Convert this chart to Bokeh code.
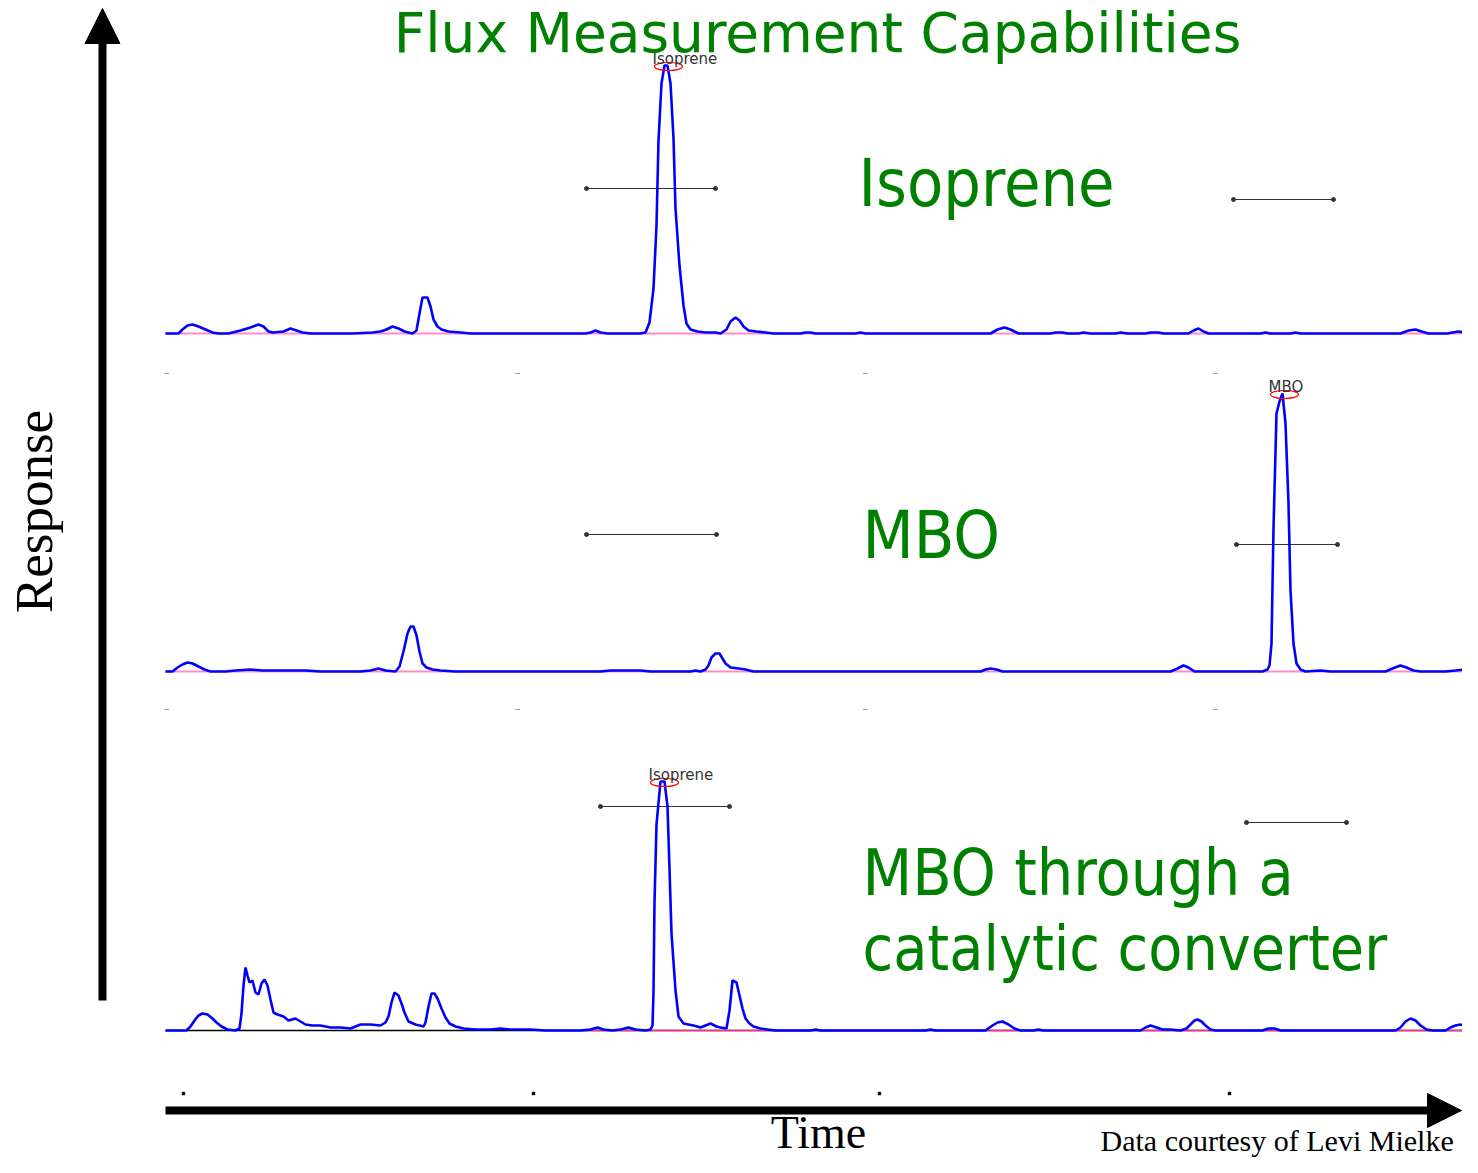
import math
from bokeh.plotting import figure
from bokeh.models import Range1d, Arrow, NormalHead, Label
from bokeh.embed import file_html
from bokeh.resources import INLINE

# ---------------- data (time in scan units, response in detector units) ----------------
# Panel 1: Isoprene standard
iso_time = [165, 178, 182, 187, 192, 198, 205, 212, 218, 228, 240, 250, 258, 263, 268, 272,
            283, 290, 296, 302, 310, 352, 372, 380, 386, 392, 398, 404, 412, 416, 419, 422,
            427, 430, 433, 437, 441, 448, 460, 470, 585, 590, 595, 600, 607, 640, 645, 649,
            653, 656, 658, 661, 664, 667, 670, 673, 675, 679, 683, 686, 690, 697, 705, 715,
            720, 726, 730, 735, 739, 743, 748, 756, 765, 773, 800, 805, 810, 815, 855, 860,
            865, 990, 997, 1004, 1010, 1018, 1050, 1055, 1062, 1067, 1078, 1083, 1090, 1115,
            1120, 1127, 1145, 1150, 1158, 1163, 1188, 1193, 1198, 1203, 1208, 1260, 1265,
            1270, 1290, 1295, 1300, 1400, 1408, 1415, 1421, 1428, 1447, 1452, 1458, 1464, 1478]
iso_resp = [0, 0, 4, 8, 9, 7, 4, 1, 0, 0, 3, 6, 9, 7, 2, 1,
            2, 5, 3, 1, 0, 0, 1, 2, 4, 7, 5, 2, 0, 3, 20, 36,
            36, 27, 14, 7, 4, 2, 1, 0, 0, 1, 3, 1, 0, 0, 1, 11,
            45, 108, 193, 250, 268, 268, 250, 195, 125, 68, 28, 10, 4, 2, 1, 1,
            0, 4, 12, 16, 13, 7, 3, 2, 1, 0, 0, 1, 1, 0, 0, 1,
            0, 0, 4, 6, 4, 0, 0, 1, 1, 0, 0, 1, 0, 0,
            1, 0, 0, 1, 1, 0, 0, 3, 5, 2, 0, 0, 1,
            0, 0, 1, 0, 0, 3, 4, 2, 0, 0, 1, 2, 1, 1]

# Panel 2: MBO standard
mbo_time = [165, 172, 177, 182, 187, 192, 198, 204, 210, 225, 235, 250, 262, 275, 290, 305,
            320, 360, 370, 378, 385, 395, 399, 403, 407, 410, 413, 416, 419, 422, 426, 432,
            440, 455, 575, 600, 610, 625, 640, 650, 690, 695, 700, 705, 708, 711, 715, 719,
            722, 725, 730, 738, 745, 753, 980, 985, 990, 996, 1002, 1140, 1160, 1170, 1177,
            1183, 1188, 1194, 1262, 1267, 1269, 1271, 1273, 1276, 1279, 1282, 1285, 1288,
            1290, 1293, 1296, 1300, 1305, 1320, 1330, 1385, 1392, 1400, 1406, 1413, 1420,
            1445, 1455, 1463, 1470, 1478]
mbo_resp = [0, 0, 4, 7, 9, 8, 5, 2, 0, 0, 1, 2, 1, 1, 1, 1,
            0, 0, 1, 3, 1, 0, 5, 20, 38, 45, 45, 36, 20, 8, 4, 2,
            1, 0, 0, 0, 1, 1, 1, 0, 0, 1, 0, 2, 6, 14, 18, 18,
            13, 8, 4, 3, 2, 0, 0, 2, 3, 2, 0, 0, 0, 0, 3,
            6, 4, 0, 0, 2, 6, 28, 143, 258, 270, 278, 248, 168,
            81, 28, 8, 2, 0, 1, 0, 0, 3, 6, 4, 1, 0,
            0, 1, 2, 1, 1]

# Panel 3: MBO through a catalytic converter
cat_time = [165, 186, 190, 194, 198, 202, 207, 212, 216, 221, 227, 235, 239, 241, 243, 245,
            247, 249, 252, 255, 258, 261, 264, 267, 270, 273, 277, 283, 288, 295, 300, 305,
            312, 320, 330, 340, 350, 360, 370, 380, 385, 388, 391, 394, 398, 401, 404, 408,
            415, 423, 425, 428, 431, 434, 437, 441, 445, 449, 455, 463, 475, 490, 500, 510,
            530, 545, 580, 590, 597, 603, 612, 620, 628, 635, 645, 650, 652, 653, 654, 656,
            660, 664, 667, 669, 671, 675, 678, 683, 693, 700, 705, 710, 716, 720, 726, 729,
            732, 736, 739, 742, 745, 749, 753, 760, 767, 775, 810, 815, 820, 925, 930, 935,
            985, 992, 997, 1002, 1008, 1014, 1020, 1033, 1038, 1043, 1140, 1145, 1150, 1156,
            1162, 1170, 1180, 1186, 1190, 1194, 1197, 1201, 1205, 1210, 1215, 1262, 1268,
            1274, 1280, 1395, 1400, 1405, 1410, 1415, 1420, 1426, 1432, 1445, 1450, 1455,
            1460, 1466, 1472, 1478]
cat_resp = [0, 0, 4, 10, 15, 17, 16, 12, 8, 4, 1, 0, 2, 17, 45, 63,
            55, 48, 50, 38, 36, 47, 51, 45, 31, 18, 16, 14, 10, 12, 9, 6,
            5, 5, 3, 3, 2, 6, 6, 5, 8, 14, 28, 38, 35, 27, 18, 9,
            6, 4, 8, 24, 37, 37, 32, 22, 13, 7, 4, 2, 1, 1, 2, 1,
            1, 0, 0, 1, 3, 1, 0, 1, 3, 1, 0, 1, 5, 38, 128, 206,
            249, 249, 224, 162, 97, 40, 14, 7, 5, 3, 5, 7, 4, 3, 2, 20,
            50, 48, 35, 22, 12, 7, 4, 2, 1, 0, 0, 1, 0, 0, 1, 0,
            0, 5, 8, 9, 6, 2, 0, 0, 1, 0, 0, 3, 5, 3,
            1, 1, 0, 2, 6, 10, 11, 9, 5, 1, 0, 0, 2,
            2, 0, 0, 3, 9, 12, 10, 5, 1, 0, 0, 3, 5,
            6, 4, 2, 1]

# identified peaks: (label, apex time, apex response)
peak_names = ["Isoprene", "MBO", "Isoprene"]
peak_times = [666, 1282, 662]
peak_resps = [268, 278, 249]

# retention-time windows: start, end, level (per panel)
win_start = [[586, 1233], [586, 1236], [600, 1246]]
win_end = [[715, 1333], [716, 1337], [729, 1346]]
win_level = [[145, 134], [137, 127], [224, 208]]

# time-axis tick positions
tick_times_bottom = [183, 533, 879, 1229]
tick_times_panel = [166, 517, 865, 1215]

# ---------------- layout ----------------
W, H = 1462, 1157
baselines = [333, 671, 1030]  # vertical position of each panel's zero line

p = figure(width=W, height=H, output_backend="svg", toolbar_location=None,
           x_range=Range1d(0, W), y_range=Range1d(H, 0),
           x_axis_location=None, y_axis_location=None, min_border=0)
p.grid.visible = False
p.outline_line_color = None
p.background_fill_color = "white"
p.border_fill_color = "white"

names = ["p1", "p2", "p3"]
p.extra_y_ranges = {nm: Range1d(-(H - b), b) for nm, b in zip(names, baselines)}

times = [iso_time, mbo_time, cat_time]
resps = [iso_resp, mbo_resp, cat_resp]

t_lo, t_hi = 165, 1478
for i, nm in enumerate(names):
    if i == 2:
        p.line([t_lo, t_hi], [0, 0], y_range_name=nm, line_color="black", line_width=1.5)
        p.line([580, t_hi], [0, 0], y_range_name=nm, line_color="#ff2f8f", line_width=1.5)
    else:
        p.line([t_lo, t_hi], [0, 0], y_range_name=nm, line_color="#ff8cc8", line_width=2)
    # window lines
    for s, e, lv in zip(win_start[i], win_end[i], win_level[i]):
        p.segment(x0=[s], y0=[lv], x1=[e], y1=[lv], y_range_name=nm,
                  line_color="#333333", line_width=1.2)
        p.scatter([s, e], [lv, lv], y_range_name=nm, size=4, color="#333333")
    # trace
    p.line(times[i], resps[i], y_range_name=nm, line_color="#0000ff", line_width=2.6)
    # peak marker and label
    p.ellipse(x=[peak_times[i] + 2], y=[peak_resps[i] - 1], width=28, height=8,
              y_range_name=nm, fill_color=None, line_color="red", line_width=1.2)
    p.add_layout(Label(x=peak_times[i] - 14, y=peak_resps[i] + 7, y_range_name=nm,
                       text=peak_names[i], text_font="DejaVu Sans", text_font_size="15px",
                       text_color="#333333", text_baseline="alphabetic", text_align="left"))

# small tick marks
p.scatter(tick_times_bottom, [1093] * 4, marker="square", size=2.5, color="black")
for yy in (373, 709):
    p.scatter(tick_times_panel, [yy] * 4, marker="dash", size=5, color="#aaaaaa")

# axes as arrows
p.add_layout(Arrow(end=NormalHead(size=35, fill_color="black", line_color="black"),
                   x_start=102, y_start=1000, x_end=102, y_end=8,
                   line_width=8, line_color="black"))
p.add_layout(Arrow(end=NormalHead(size=34, fill_color="black", line_color="black"),
                   x_start=165, y_start=1110, x_end=1461, y_end=1110,
                   line_width=8, line_color="black"))

GREEN = "#008000"
SANS = "DejaVu Sans Condensed"
p.add_layout(Label(x=817, y=32, text="Flux Measurement Capabilities", text_font="DejaVu Sans",
                   text_font_size="55px", text_color=GREEN, text_align="center",
                   text_baseline="alphabetic"))
for txt, x, y, fs in [("Isoprene", 858, 183, "66px"),
                      ("MBO", 862, 535, "66px"),
                      ("MBO through a", 862, 872, "64px"),
                      ("catalytic converter", 862, 948, "62px")]:
    p.add_layout(Label(x=x, y=y, text=txt, text_font=SANS, text_font_size=fs,
                       text_color=GREEN, text_align="left", text_baseline="alphabetic"))

SERIF = "Liberation Serif"
p.add_layout(Label(x=33, y=511, text="Response", angle=math.pi / 2, text_font=SERIF,
                   text_font_size="53px", text_color="black", text_align="center",
                   text_baseline="middle"))
p.add_layout(Label(x=818, y=1132, text="Time", text_font=SERIF, text_font_size="46px",
                   text_color="black", text_align="center", text_baseline="alphabetic"))
p.add_layout(Label(x=1100, y=1140, text="Data courtesy of Levi Mielke", text_font=SERIF,
                   text_font_size="30px", text_color="black", text_align="left",
                   text_baseline="alphabetic"))

open("out.html", "w").write(file_html(p, INLINE))
